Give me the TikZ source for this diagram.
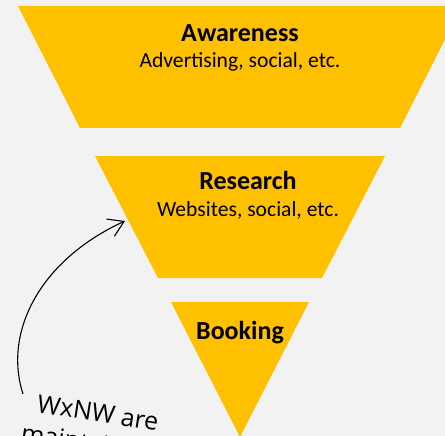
\documentclass[tikz,border=0pt]{standalone}
\usepackage{fontspec}
\setmainfont{Carlito}
\newfontfamily\notefont{Open Sans}
\usetikzlibrary{arrows.meta}
\definecolor{funnel}{HTML}{FFC000}
\definecolor{paper}{HTML}{F2F2F2}
\tikzset{
  stage/.style={fill=funnel, draw=none},
  title/.style={anchor=base, inner sep=0pt, font=\fontsize{26}{30}\selectfont\bfseries},
  detail/.style={anchor=base, inner sep=0pt, font=\fontsize{21.6}{26}\selectfont},
  note/.style={anchor=base west, inner sep=0pt, rotate=-9, font=\notefont\fontsize{25}{30}\selectfont},
  pointer/.style={line width=1.1pt, -{Straight Barb[length=15pt,width=19pt]}}
}
\begin{document}
\begin{tikzpicture}[x=1pt, y=-1pt]
  \useasboundingbox (0,0) rectangle (445,436);
  \clip (0,0) rectangle (445,436);
  \fill[paper] (0,0) rectangle (445,436);

  % funnel stages
  \fill[stage] (18,6) -- (462,6) -- (400,128) -- (80,128) -- cycle;
  \fill[stage] (95,156) -- (385,156) -- (322,278) -- (158,278) -- cycle;
  \fill[stage] (171,302) -- (309,302) -- (240,437) -- cycle;

  % stage labels
  \node[title]  (aware)       at (240,42)  {Awareness};
  \node[detail] (awareSub)    at (240,68)  {Advertising, social, etc.};
  \node[title]  (research)    at (248,189) {Research};
  \node[detail] (researchSub) at (248,216) {Websites, social, etc.};
  \node[title]  (booking)     at (240,339) {Booking};

  % handwritten note pointing at the research stage
  \node[note] (noteA) at (36,412) {WxNW are};
  \node[note] (noteB) at (20,441) {maintain};
  \coordinate (noteTail) at (23,394);
  \coordinate (researchEdge) at (125,221);
  \draw[pointer] (noteTail) .. controls (3,332) and (40,260) .. (researchEdge);
\end{tikzpicture}
\end{document}
